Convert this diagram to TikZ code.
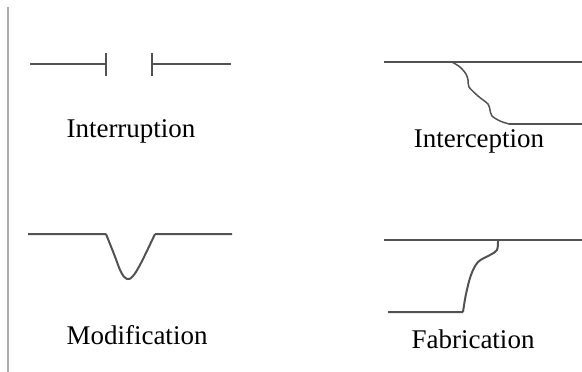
\documentclass[tikz,border=0pt]{standalone}
\usepackage{fontspec}
\setmainfont{Liberation Serif}
\begin{document}
\begin{tikzpicture}[x=1pt,y=-1pt,
  wire/.style={draw=black!68, line width=2pt},
  sep/.style={draw=black!33, line width=2.4pt},
  lbl/.style={font=\fontsize{27}{30}\selectfont, inner sep=0pt, text=black}]
\useasboundingbox (0,0) rectangle (582,372);
% left separator
\coordinate (s1) at (8,7); \coordinate (s2) at (8,372);
\draw[sep] (s1) -- (s2);
% Interruption
\coordinate (a1) at (30,64); \coordinate (a2) at (106,64);
\coordinate (a3) at (152,64); \coordinate (a4) at (231,64);
\draw[wire] (a1) -- (a2) (106,53) -- (106,76);
\draw[wire] (a3) -- (a4) (152,53) -- (152,76);
\node[lbl] (t1) at (131,131) {Interruption};
% Interception
\coordinate (b1) at (384,62); \coordinate (b2) at (582,62);
\coordinate (b3) at (509,124); \coordinate (b4) at (582,124);
\draw[wire] (b1) -- (b2);
\draw[wire, line width=1.5pt] plot[smooth, tension=0.5] coordinates {(452,62) (460,67) (466,74) (468,80) (469,87) (478,96) (488,104) (490,110) (492,116) (500,121) (509,124)};
\draw[wire] (b3) -- (b4);
\node[lbl] (t2) at (479,141) {Interception};
% Modification
\coordinate (c1) at (28,234); \coordinate (c2) at (106,234);
\coordinate (c3) at (155,234); \coordinate (c4) at (232,234);
\draw[wire] (c1) -- (c2) plot[smooth, tension=0.6] coordinates {(106,234) (114,254) (121,272) (127,279) (133,276) (141,263) (155,234)} (c3) -- (c4);
% Fabrication
\coordinate (d1) at (384,240); \coordinate (d2) at (582,240);
\coordinate (d3) at (388,312); \coordinate (d4) at (463,312);
\draw[wire] (d1) -- (d2);
\draw[wire] (d3) -- (d4) plot[smooth, tension=0.55] coordinates {(463,312) (466,294) (471,275) (478,262) (490,255) (497,250) (498,240)};
\node[lbl] (t3) at (137,335) {Modification};
\node[lbl] (t4) at (473,339) {Fabrication};
\end{tikzpicture}
\end{document}
